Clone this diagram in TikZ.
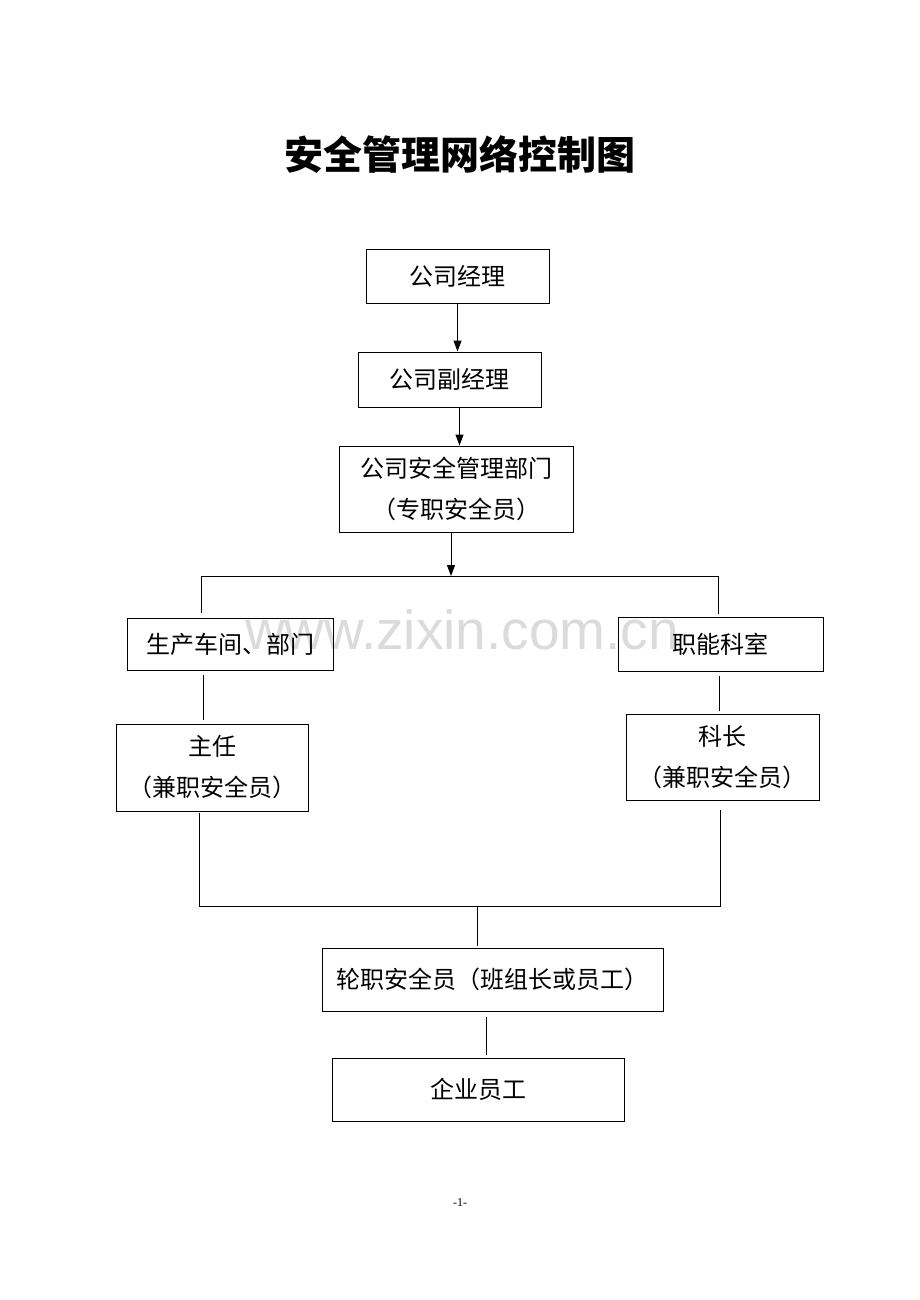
\documentclass[tikz,border=0pt]{standalone}
\usepackage{fontspec}
\setmainfont{Liberation Serif}
\newfontfamily\cjk{Noto Sans CJK SC}
\newfontfamily\wmfont{Liberation Sans}
\usetikzlibrary{arrows.meta,calc}
\tikzset{
  box/.style={draw, line width=1pt, fill=white, inner sep=0pt, align=center,
    font=\cjk\fontsize{24}{41}\selectfont},
  conn/.style={line width=1pt},
  arr/.style={line width=1pt, -{Triangle[length=11pt,width=8pt]}},
}
\begin{document}
\begin{tikzpicture}[x=1pt,y=-1pt]
\useasboundingbox[fill=white] (0,0) rectangle (920,1300);
% title
\node[font=\cjk\bfseries\fontsize{39}{39}\selectfont, inner sep=0pt] (title) at (460,155) {安全管理网络控制图};
% boxes
\node[box, minimum width=183pt, minimum height=54pt] (n1) at (457.5,276) {公司经理};
\node[box, minimum width=183pt, minimum height=55pt] (n2) at (449.5,379.5) {公司副经理};
\node[box, minimum width=234pt, minimum height=86pt] (n3) at (456,489) {公司安全管理部门\\（专职安全员）};
\node[box, minimum width=206pt, minimum height=52pt] (n4) at (230,644) {生产车间、部门};
\node[box, minimum width=205pt, minimum height=54pt] (n5) at (720.5,644) {职能科室};
\node[box, minimum width=192pt, minimum height=87pt] (n6) at (212,767.5) {主任\\（兼职安全员）};
\node[box, minimum width=193pt, minimum height=86pt] (n7) at (722.5,757) {科长\\（兼职安全员）};
\node[box, minimum width=341pt, minimum height=63pt] (n8) at (492.5,979.5) {轮职安全员（班组长或员工）};
\node[box, minimum width=292pt, minimum height=63pt] (n9) at (478,1089.5) {企业员工};
% page number
\node[font=\fontsize{12}{12}\selectfont, inner sep=0pt] (pg) at (460,1203) {-1-};
% junction coordinates
\coordinate (tl) at (201,576);
\coordinate (tr) at (718,576);
\coordinate (tm) at (451,576);
\coordinate (bl) at (199,906);
\coordinate (br) at (720,906);
\coordinate (bm) at (477,906);
% connectors
\draw[arr] (n1.south) -- (n1.south |- n2.north);
\draw[arr] ([xshift=10pt]n2.south) -- ([xshift=10pt]n2.south |- n3.north);
\draw[arr] ([xshift=-5pt]n3.south) -- (tm);
\draw[conn] (tl) -- (tr);
\draw[conn] (tl) -- ([yshift=5pt]tl |- n4.north);
\draw[conn] (tr) -- ([yshift=3pt]tr |- n5.north);
\draw[conn] ($(n4.south)+(-27,4)$) -- ($(n6.north)+(-9,-4)$);
\draw[conn] ($(n5.south)+(-1.5,4)$) -- ($(n7.north)+(-3.5,-3)$);
\draw[conn] ($(n6.south)+(-13,1)$) -- (bl) -- (br) -- ($(n7.south)+(-2.5,9)$);
\draw[conn] (bm) -- ($(n8.north)+(-15.5,-2)$);
\draw[conn] ($(n8.south)+(-6.5,5)$) -- ($(n9.north)+(8,-3)$);
% watermark (on top, translucent)
\node[text=black, text opacity=0.14, font=\wmfont\fontsize{55}{55}\selectfont, inner sep=0pt, anchor=base] (wm) at (462,649) {www.zixin.com.cn};
\end{tikzpicture}
\end{document}
